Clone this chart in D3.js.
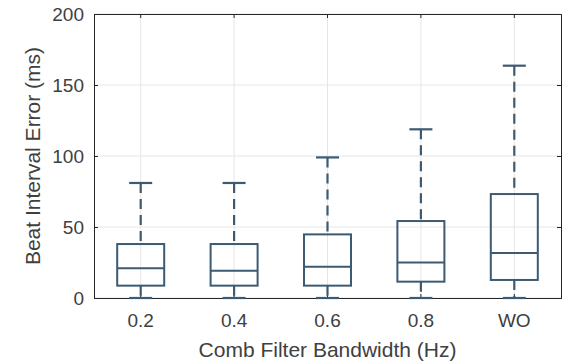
<!DOCTYPE html>
<html>
<head>
<meta charset="utf-8">
<script src="https://cdn.jsdelivr.net/npm/d3@7"></script>
<style>
  body { margin: 0; background: #fff; }
  text { font-family: "Liberation Sans", Arial, sans-serif; }
</style>
</head>
<body>
<div id="chart"></div>
<script>
// categories and box statistics (ms)
const categories = ["0.2", "0.4", "0.6", "0.8", "WO"];
const lowerWhisker = [0, 0, 0, 0, 0];
const q1 = [8.7, 8.7, 8.7, 11.5, 12.7];
const median = [21, 19.2, 22, 25, 31.7];
const q3 = [38, 38, 44.8, 54.2, 73.2];
const upperWhisker = [81, 81, 99, 118.8, 163.6];
const yTicks = [0, 50, 100, 150, 200];

const W = 565, H = 361;
const margin = {top: 14, right: 4, bottom: 63, left: 94};
const width = 561 - margin.left, height = 298 - margin.top;
const boxColor = "#3c5a72";
const textColor = "#404040";

const data = categories.map((c, i) => ({
    cat: c, lo: lowerWhisker[i], q1: q1[i], med: median[i], q3: q3[i], hi: upperWhisker[i]
}));

const svg = d3.select("#chart").append("svg")
    .attr("width", W).attr("height", H)
  .append("g")
    .attr("transform", `translate(${margin.left},${margin.top})`);

const x = d3.scaleBand().domain(categories).range([0, width]);
const y = d3.scaleLinear().domain([0, 200]).range([height, 0]);

// grid
svg.append("g")
    .selectAll("line")
    .data(categories)
    .join("line")
    .attr("x1", d => x(d) + x.bandwidth() / 2).attr("x2", d => x(d) + x.bandwidth() / 2)
    .attr("y1", 0).attr("y2", height)
    .attr("stroke", "#e6e6e6").attr("stroke-width", 1);
svg.append("g")
    .selectAll("line")
    .data(yTicks)
    .join("line")
    .attr("x1", 0).attr("x2", width)
    .attr("y1", d => y(d)).attr("y2", d => y(d))
    .attr("stroke", "#e6e6e6").attr("stroke-width", 1);

// axes
svg.append("g")
    .attr("transform", `translate(0,${height})`)
    .call(d3.axisBottom(x).tickSize(-4).tickPadding(16));
svg.append("g")
    .call(d3.axisLeft(y).tickValues(yTicks).tickSize(-4).tickPadding(10));
// mirrored top / right
svg.append("g").call(d3.axisTop(x).tickSize(-4).tickFormat(""));
svg.append("g").attr("transform", `translate(${width},0)`)
    .call(d3.axisRight(y).tickValues(yTicks).tickSize(-4).tickFormat(""));

svg.selectAll(".domain").attr("stroke", "#262626").attr("stroke-width", 1);
svg.selectAll(".tick line").attr("stroke", "#262626");
svg.selectAll(".tick text").attr("fill", textColor).style("font-size", "19px");

const bw = 47, cw = 23;
const cx = d => x(d.cat) + x.bandwidth() / 2;

const g = svg.append("g").selectAll("g").data(data).join("g");

// whiskers (dashed)
g.append("line")
    .attr("x1", cx).attr("x2", cx)
    .attr("y1", d => y(d.hi)).attr("y2", d => y(d.q3))
    .attr("stroke", boxColor).attr("stroke-width", 2.2)
    .attr("stroke-dasharray", "10,6");
g.append("line")
    .attr("x1", cx).attr("x2", cx)
    .attr("y1", d => y(d.q1)).attr("y2", d => y(d.lo))
    .attr("stroke", boxColor).attr("stroke-width", 2.2)
    .attr("stroke-dasharray", "10,6");
// caps
g.append("line")
    .attr("x1", d => cx(d) - cw / 2).attr("x2", d => cx(d) + cw / 2)
    .attr("y1", d => y(d.hi)).attr("y2", d => y(d.hi))
    .attr("stroke", boxColor).attr("stroke-width", 2.2);
g.append("line")
    .attr("x1", d => cx(d) - cw / 2).attr("x2", d => cx(d) + cw / 2)
    .attr("y1", d => y(d.lo)).attr("y2", d => y(d.lo))
    .attr("stroke", boxColor).attr("stroke-width", 2.2);
// box
g.append("rect")
    .attr("x", d => cx(d) - bw / 2)
    .attr("y", d => y(d.q3))
    .attr("width", bw)
    .attr("height", d => y(d.q1) - y(d.q3))
    .attr("fill", "none")
    .attr("stroke", boxColor).attr("stroke-width", 2);
// median
g.append("line")
    .attr("x1", d => cx(d) - bw / 2).attr("x2", d => cx(d) + bw / 2)
    .attr("y1", d => y(d.med)).attr("y2", d => y(d.med))
    .attr("stroke", boxColor).attr("stroke-width", 2);

// labels
svg.append("text")
    .attr("x", width / 2).attr("y", height + 59)
    .attr("text-anchor", "middle")
    .attr("fill", textColor)
    .style("font-size", "21px")
    .text("Comb Filter Bandwidth (Hz)");
svg.append("text")
    .attr("transform", `translate(-54,${height / 2}) rotate(-90)`)
    .attr("text-anchor", "middle")
    .attr("fill", textColor)
    .style("font-size", "21px")
    .text("Beat Interval Error (ms)");
</script>
</body>
</html>
